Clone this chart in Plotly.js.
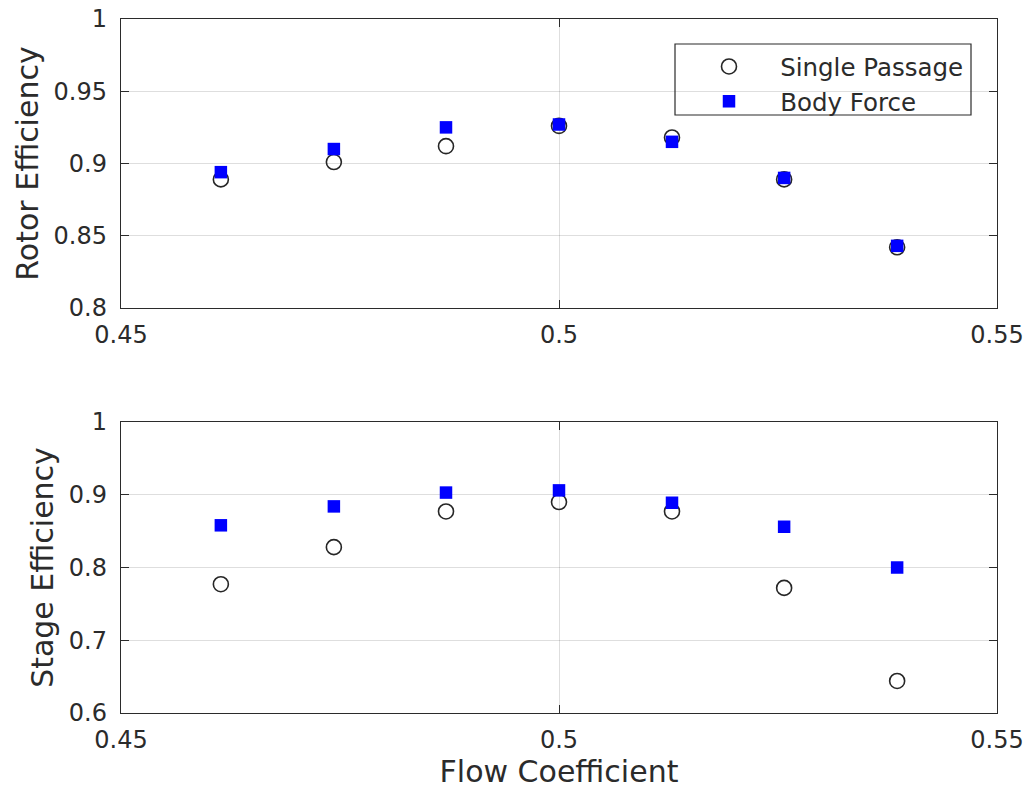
<!DOCTYPE html>
<html>
<head>
<meta charset="utf-8">
<script src="https://cdn.plot.ly/plotly-3.0.1.min.js"></script>
<style>html,body{margin:0;padding:0;background:#fff;}#chart{width:1029px;height:794px;}</style>
</head>
<body>
<div id="chart"></div>
<script>
// Data
const flowCoefficient = [0.4614, 0.4743, 0.4871, 0.5, 0.5129, 0.5257, 0.5386];
const rotorSinglePassage = [0.889, 0.901, 0.912, 0.926, 0.918, 0.889, 0.842];
const rotorBodyForce = [0.894, 0.910, 0.925, 0.927, 0.915, 0.890, 0.843];
const stageSinglePassage = [0.777, 0.828, 0.877, 0.890, 0.877, 0.772, 0.644];
const stageBodyForce = [0.858, 0.884, 0.903, 0.906, 0.889, 0.856, 0.800];
const xTicks = [0.45, 0.5, 0.55];
const xTickLabels = ['0.45', '0.5', '0.55'];
const rotorTicks = [0.8, 0.85, 0.9, 0.95, 1];
const rotorTickLabels = ['0.8', '0.85', '0.9', '0.95', '1'];
const stageTicks = [0.6, 0.7, 0.8, 0.9, 1];
const stageTickLabels = ['0.6', '0.7', '0.8', '0.9', '1'];
const seriesNames = ['Single Passage', 'Body Force'];

const FONT = 'DejaVu Sans, sans-serif';
const TXT = '#2b2b2b';
const pad = '\u00a0\u00a0\u00a0\u00a0';

const circleMarker = {symbol: 'circle-open', size: 15, color: '#262626', line: {width: 1.6, color: '#262626'}};
const squareMarker = {symbol: 'square', size: 12.5, color: '#0000ff', line: {width: 0}};

const traces = [
  {x: flowCoefficient, y: rotorSinglePassage, type: 'scatter', mode: 'markers', name: pad + seriesNames[0], marker: circleMarker, xaxis: 'x', yaxis: 'y', showlegend: true},
  {x: flowCoefficient, y: rotorBodyForce, type: 'scatter', mode: 'markers', name: pad + seriesNames[1], marker: squareMarker, xaxis: 'x', yaxis: 'y', showlegend: true},
  {x: flowCoefficient, y: stageSinglePassage, type: 'scatter', mode: 'markers', name: seriesNames[0], marker: circleMarker, xaxis: 'x2', yaxis: 'y2', showlegend: false},
  {x: flowCoefficient, y: stageBodyForce, type: 'scatter', mode: 'markers', name: seriesNames[1], marker: squareMarker, xaxis: 'x2', yaxis: 'y2', showlegend: false}
];

function xAxis(anchor, title) {
  const a = {
    anchor: anchor, domain: [0, 1], range: [0.45, 0.55],
    tickmode: 'array', tickvals: xTicks, ticktext: xTickLabels,
    ticks: 'inside', ticklen: 8, tickwidth: 1, tickcolor: TXT,
    showline: true, linecolor: TXT, linewidth: 1.2, mirror: 'ticks',
    showgrid: true, gridcolor: 'rgba(0,0,0,0.13)', gridwidth: 1, zeroline: false,
    tickfont: {family: FONT, size: 24, color: TXT}, ticklabelstandoff: 5
  };
  if (title) a.title = {text: title, font: {family: FONT, size: 30, color: TXT}, standoff: 1};
  return a;
}
function yAxis(anchor, domain, range, vals, labels, title) {
  return {
    anchor: anchor, domain: domain, range: range,
    tickmode: 'array', tickvals: vals, ticktext: labels,
    ticks: 'inside', ticklen: 8, tickwidth: 1, tickcolor: TXT,
    showline: true, linecolor: TXT, linewidth: 1.2, mirror: 'ticks',
    showgrid: true, gridcolor: 'rgba(0,0,0,0.13)', gridwidth: 1, zeroline: false,
    tickfont: {family: FONT, size: 24, color: TXT}, ticklabelstandoff: 8,
    title: {text: title, font: {family: FONT, size: 30, color: TXT}, standoff: 6}
  };
}

const layout = {
  width: 1029, height: 794,
  margin: {l: 121, r: 32, t: 19, b: 81},
  paper_bgcolor: '#ffffff', plot_bgcolor: '#ffffff',
  showlegend: true,
  xaxis: xAxis('y', null),
  yaxis: yAxis('x', [0.5836, 1], [0.8, 1], rotorTicks, rotorTickLabels, 'Rotor Efficiency'),
  xaxis2: xAxis('y2', 'Flow Coefficient'),
  yaxis2: yAxis('x2', [0, 0.4193], [0.6, 1], stageTicks, stageTickLabels, 'Stage Efficiency'),
  legend: {
    x: (709 - 121) / 876, xanchor: 'left', y: 1 - (44 - 19) / 694, yanchor: 'top',
    bgcolor: 'rgba(0,0,0,0)', borderwidth: 0,
    font: {family: FONT, size: 24.5, color: TXT}
  },
  shapes: [{
    type: 'rect', xref: 'paper', yref: 'paper', layer: 'above',
    x0: (675 - 121) / 876, x1: (971 - 121) / 876,
    y0: 1 - (115 - 19) / 694, y1: 1 - (44 - 19) / 694,
    line: {color: TXT, width: 1.2}, fillcolor: 'rgba(0,0,0,0)'
  }]
};

Plotly.newPlot('chart', traces, layout, {displayModeBar: false, staticPlot: true});
</script>
</body>
</html>
